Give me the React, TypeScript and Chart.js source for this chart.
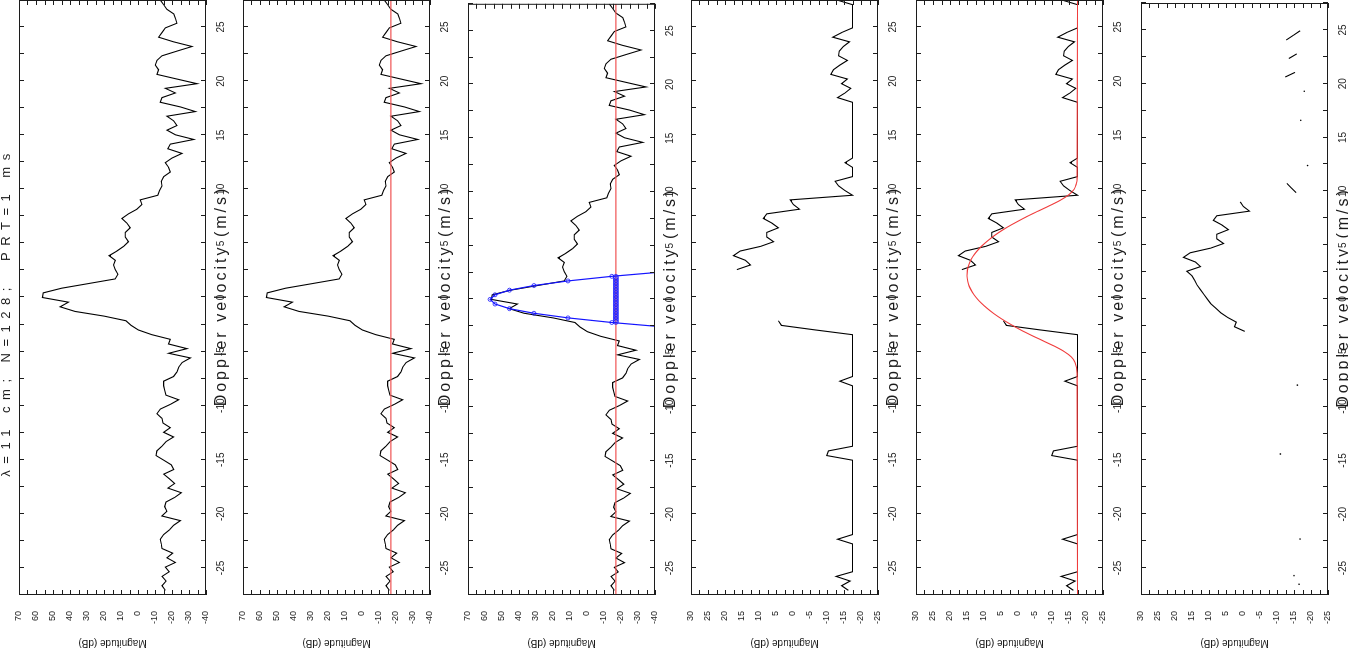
import React, { useEffect, useRef } from "react";
import { Chart, registerables } from "chart.js";

Chart.register(...registerables);

// ---------- data ----------
const N_BINS = 128;
const NYQUIST = 27.5; // m/s  (lambda / (4 PRT))
const VELOCITY: number[] = Array.from({ length: N_BINS }, (_, k) => ((k - 63) * 2 * NYQUIST) / N_BINS);

// raw Doppler spectrum (dB), one value per velocity bin
const SPECTRUM: number[] = [
  -16.1, -14.1, -16.5, -14.1, -18.4, -16.1, -22.0, -17.0, -20.4, -14.1,
  -13.7, -13.1, -15.1, -18.4, -21.0, -24.9, -14.1, -17.0, -15.7, -16.5,
  -21.6, -25.5, -17.6, -21.6, -18.4, -15.1, -21.0, -19.6, -15.1, -10.6,
  -11.1, -14.1, -16.5, -20.9, -15.1, -19.0, -14.7, -14.1, -11.1, -13.1,
  -19.0, -23.9, -16.4, -15.7, -15.1, -15.1, -20.9, -22.9, -23.9, -25.9,
  -30.8, -18.0, -28.8, -18.0, -19.0, -8.2, -0.3, 4.0, 7.1, 20.0,
  37.0, 45.8, 40.9, 56.2, 55.7, 44.9, 29.1, 13.4, 11.8, 13.4,
  14.4, 13.4, 17.0, 12.4, 8.5, 5.6, 7.5, 7.5, 4.6, 6.5,
  9.5, 5.6, 0.6, -2.3, -1.3, -11.7, -12.7, -14.1, -13.7, -15.1,
  -19.0, -18.0, -16.0, -20.0, -25.9, -17.5, -19.0, -32.8, -22.0, -17.0,
  -22.9, -21.0, -17.0, -33.7, -24.9, -13.1, -14.1, -22.0, -16.1, -34.7,
  -22.9, -11.1, -12.1, -10.2, -11.1, -14.1, -22.9, -31.8, -21.0, -12.1,
  -14.1, -16.1, -22.9, -22.0, -21.0, -17.0, -15.1, -13.1,
];

const NOISE_LEVEL = -17;

// clutter-filtered, noise-floored spectrum (panels 4 and 5)
const PROCESSED: (number | null)[] = [
  -16.3, -14.3, -16.8, -12.7, -17.5, -17.5, -17.5, -17.5, -17.5, -17.5,
  -17.5, -13.1, -17.5, -17.5, -17.5, -17.5, -17.5, -17.5, -17.5, -17.5,
  -17.5, -17.5, -17.5, -17.5, -17.5, -17.5, -17.5, -17.5, -17.5, -9.9,
  -10.4, -17.5, -17.5, -17.5, -17.5, -17.5, -17.5, -17.5, -17.5, -17.5,
  -17.5, -17.5, -17.5, -17.5, -17.5, -13.8, -17.5, -17.5, -17.5, -17.5,
  -17.5, -17.5, -17.5, -17.5, -17.5, -17.5, -6.8, 3.4, 4.3, null,
  null, null, null, null, null, null, null, null, null, 16.5,
  12.5, 14.0, 17.5, 15.5, 9.5, 5.7, 7.7, 7.7, 4.3, 6.2,
  8.7, 7.7, -1.9, -0.1, 0.8, -17.5, -15.3, -13.4, -12.4, -17.5,
  -17.5, -17.5, -15.3, -17.5, -17.5, -17.5, -17.5, -17.5, -17.5, -17.5,
  -17.5, -17.5, -17.5, -17.5, -17.5, -17.5, -13.1, -15.3, -17.0, -14.3,
  -16.0, -11.1, -11.9, -13.8, -16.0, -13.4, -13.6, -14.8, -16.6, -11.7,
  -14.3, -17.5, -17.5, -17.5, -17.5, -17.5, -17.5, -12.9,
];

// signal-only spectrum (panel 6), gaps where no signal
const SIGNAL: (number | null)[] = [
  null, null, null, null, null, null, null, null, null, null,
  null, null, null, null, null, null, null, null, null, null,
  null, null, null, null, null, null, null, null, null, null,
  null, null, null, null, null, null, null, null, null, null,
  null, null, null, null, null, null, null, null, null, null,
  null, null, null, null, null, null, -0.5, 2.5, 2.0, 4.5,
  6.5, 8.0, 9.5, 10.5, 11.5, 12.5, 13.5, 14.2, 15.0, 16.5,
  12.5, 14.0, 17.5, 15.5, 9.5, 5.7, 7.7, 7.7, 4.3, 6.2,
  8.7, 7.7, -1.9, -0.1, 0.8, null, -15.6, -14.2, -12.9, null,
  null, null, null, null, null, null, null, null, null, null,
  null, null, null, null, null, null, null, null, null, null,
  null, -12.4, -15.3, null, null, -13.5, -15.8, null, null, -12.7,
  -14.8, -16.8, null, null, null, null, null, null,
];
const DOT_VEL = [-26.5, -25.7, -22.3, -14.4, -8.0, 12.4, 16.6, 19.3];
const DOT_DB = [-16.5, -15.0, -16.8, -11.0, -16.0, -19.0, -17.0, -18.0];

// Gaussian model (panel 5)
const FIT_VEL = [
  -27.5, -7, -6, -5.5, -5, -4.5, -4, -3.5, -3, -2.5, -2, -1.5, -1, -0.5, 0, 0.5, 1, 1.5, 2,
  2.5, 3, 3.5, 4, 4.5, 5, 5.5, 6, 6.5, 7, 7.5, 8, 8.5, 9, 9.5, 10, 10.5, 11, 27.5,
];
const FIT_DB = [
  -17.5, -17.4, -16.8, -15.7, -13.6, -10.7, -7.35, -4.0, -0.8, 2.06, 4.7, 7.06, 9.1, 10.86,
  12.3, 13.43, 14.3, 14.78, 15.0, 14.9, 14.5, 13.8, 12.8, 11.47, 9.85, 7.92, 5.7, 3.14, 0.3,
  -2.71, -6.0, -9.37, -12.5, -14.96, -16.5, -17.14, -17.4, -17.5,
];

// parabolic peak fit (panel 3)
const PARAB_VEL = [-2.578, -2.148, -1.719, -1.289, -0.859, -0.43, 0, 0.43, 0.859, 1.289, 1.719, 2.148, 2.578];
const PARAB_DB = [-46.2, -14.6, 11.2, 31.2, 45.6, 54.1, 57.0, 54.1, 45.6, 31.2, 11.2, -14.6, -46.2];
const HATCH_VEL = [
  -2.1, -1.95, -1.8, -1.65, -1.5, -1.35, -1.2, -1.05, -0.9, -0.75, -0.6, -0.45, -0.3, -0.15, 0,
  0.15, 0.3, 0.45, 0.6, 0.75, 0.9, 1.05, 1.2, 1.35, 1.5, 1.65, 1.8, 1.95, 2.1,
];

const TITLE = "λ=11 cm; N=128;  PRT=1 ms";
const X_TITLE = "Doppler velocity (m/s)";
const Y_TITLE = "Magnitude (dB)";

// ---------- styling / layout ----------
const FONT = '"Liberation Sans", Arial, Helvetica, sans-serif';
const INK = "#1c1c1c";
const CW = 667;
const CH = 245;

type Kind = "raw" | "noise" | "fit" | "processed" | "gauss" | "signal";
const PANELS: { kind: Kind; offset: number }[] = [
  { kind: "raw", offset: 0 },
  { kind: "noise", offset: 224 },
  { kind: "fit", offset: 449 },
  { kind: "processed", offset: 672 },
  { kind: "gauss", offset: 897 },
  { kind: "signal", offset: 1122 },
];

const pts = (xs: number[], ys: (number | null)[]) => xs.map((x, i) => ({ x, y: ys[i] }));
const line = (data: any[], color: string, order: number, extra: any = {}) => ({
  data,
  borderColor: color,
  backgroundColor: color,
  borderWidth: 1.1,
  pointRadius: 0,
  tension: 0,
  spanGaps: false,
  order,
  ...extra,
});

function datasets(kind: Kind) {
  const ds: any[] = [];
  const raw = pts(VELOCITY, SPECTRUM);
  const noise = [
    { x: -NYQUIST, y: NOISE_LEVEL },
    { x: NYQUIST, y: NOISE_LEVEL },
  ];
  if (kind === "raw") ds.push(line(raw, "#000", 3));
  if (kind === "noise") {
    ds.push(line(raw, "#000", 3));
    ds.push(line(noise, "#f05a5a", 2));
  }
  if (kind === "fit") {
    ds.push(line(raw, "#000", 4));
    ds.push(line(noise, "#f05a5a", 3));
    ds.push(
      line(pts(PARAB_VEL, PARAB_DB), "#1414ff", 1, {
        borderWidth: 1.2,
        pointRadius: 2,
        pointStyle: "circle",
        pointBorderWidth: 0.8,
        pointBackgroundColor: "rgba(0,0,0,0)",
        pointBorderColor: "#1414ff",
      })
    );
    ds.push(
      line(
        HATCH_VEL.map((x) => ({ x, y: NOISE_LEVEL })),
        "#1414ff",
        1,
        {
          showLine: false,
          pointRadius: 2.4,
          pointStyle: "circle",
          pointBorderWidth: 0.8,
          pointBackgroundColor: "rgba(0,0,0,0)",
          pointBorderColor: "#1414ff",
        }
      )
    );
  }
  if (kind === "processed") ds.push(line(pts(VELOCITY, PROCESSED), "#000", 3));
  if (kind === "gauss") {
    ds.push(line(pts(VELOCITY, PROCESSED), "#000", 3));
    ds.push(line(pts(FIT_VEL, FIT_DB), "#f03c3c", 2, { cubicInterpolationMode: "monotone" }));
  }
  if (kind === "signal") {
    ds.push(line(pts(VELOCITY, SIGNAL), "#000", 3));
    ds.push(
      line(pts(DOT_VEL, DOT_DB), "#000", 2, {
        showLine: false,
        pointRadius: 0.8,
        pointBorderWidth: 0,
      })
    );
  }
  return ds;
}

const boxPlugin = {
  id: "matlabBox",
  afterDraw(chart: any) {
    const { ctx, chartArea: a, scales } = chart;
    const xs = scales.x;
    const ys = scales.y;
    const L = 5;
    ctx.save();
    ctx.strokeStyle = INK;
    ctx.lineWidth = 1;
    ctx.beginPath();
    xs.ticks.forEach((t: any) => {
      const p = Math.round(xs.getPixelForValue(t.value)) + 0.5;
      ctx.moveTo(p, a.bottom);
      ctx.lineTo(p, a.bottom - L);
      ctx.moveTo(p, a.top);
      ctx.lineTo(p, a.top + L);
    });
    ys.ticks.forEach((t: any) => {
      const p = Math.round(ys.getPixelForValue(t.value)) + 0.5;
      ctx.moveTo(a.left, p);
      ctx.lineTo(a.left + L, p);
      ctx.moveTo(a.right, p);
      ctx.lineTo(a.right - L, p);
    });
    ctx.stroke();
    ctx.strokeRect(a.left + 0.5, a.top + 0.5, a.right - a.left - 1, a.bottom - a.top - 1);

    // velocity axis title (wide letter spacing as in the reference)
    ctx.fillStyle = INK;
    ctx.font = `16px ${FONT}`;
    (ctx as any).letterSpacing = "3px";
    ctx.textAlign = "center";
    ctx.textBaseline = "middle";
    ctx.fillText(X_TITLE, (a.left + a.right) / 2 + 1.5, 222);
    ctx.restore();
  },
};

const titlePlugin = {
  id: "figTitle",
  afterDraw(chart: any) {
    const ctx = chart.ctx;
    ctx.save();
    ctx.fillStyle = INK;
    ctx.font = `13px ${FONT}`;
    (ctx as any).letterSpacing = "6.5px";
    ctx.textAlign = "center";
    ctx.textBaseline = "middle";
    ctx.fillText(TITLE, 354, 6);
    ctx.restore();
  },
};

function Panel({ kind, offset }: { kind: Kind; offset: number }) {
  const ref = useRef<HTMLCanvasElement | null>(null);
  useEffect(() => {
    const small = kind === "processed" || kind === "gauss" || kind === "signal";
    const yMin = small ? -25 : -40;
    const yMax = small ? 30 : 70;
    const yStep = small ? 2.5 : 5;
    const yLabelEvery = small ? 5 : 10;
    const chart = new Chart(ref.current as HTMLCanvasElement, {
      type: "line",
      data: { datasets: datasets(kind) },
      options: {
        responsive: false,
        animation: false,
        events: [],
        layout: { padding: { top: 19, right: 1, left: 0, bottom: 0 } },
        plugins: { legend: { display: false }, tooltip: { enabled: false }, title: { display: false } },
        scales: {
          x: {
            type: "linear",
            min: -NYQUIST,
            max: NYQUIST,
            grid: { display: false },
            border: { display: false },
            afterFit: (s: any) => {
              s.height = 39;
            },
            ticks: {
              stepSize: 2.5,
              autoSkip: false,
              maxRotation: 0,
              minRotation: 0,
              padding: 1,
              color: INK,
              font: { family: FONT, size: 10 },
              callback: (v: any) => {
                const n = Number(v);
                return Math.abs(n % 5) < 1e-6 && Math.abs(n) <= 25 ? String(n) : "";
              },
            },
            title: { display: false },
          },
          y: {
            type: "linear",
            min: yMin,
            max: yMax,
            grid: { display: false },
            border: { display: false },
            afterFit: (s: any) => {
              s.width = 71;
            },
            ticks: {
              stepSize: yStep,
              autoSkip: false,
              padding: 8,
              color: INK,
              font: { family: FONT, size: 9 },
              callback: (v: any) => {
                const n = Number(v);
                return Math.abs(n % yLabelEvery) < 1e-6 ? String(n) : "";
              },
            },
            title: {
              display: true,
              text: Y_TITLE,
              color: INK,
              font: { family: FONT, size: 10, lineHeight: 1.2 },
              padding: { top: 17.5, bottom: 0 },
            },
          },
        },
      },
      plugins: kind === "raw" ? [boxPlugin, titlePlugin] : [boxPlugin],
    } as any);
    return () => chart.destroy();
  }, [kind]);
  return (
    <canvas
      ref={ref}
      width={CW}
      height={CH}
      style={{ position: "absolute", left: 0, top: offset, width: CW, height: CH }}
    />
  );
}

export default function App() {
  return (
    <div
      style={{
        position: "fixed",
        left: 0,
        top: 0,
        width: CW,
        height: 1348,
        transformOrigin: "0 0",
        transform: "translateY(666px) rotate(-90deg)",
        background: "#fff",
      }}
    >
      {PANELS.map((p) => (
        <Panel key={p.kind} kind={p.kind} offset={p.offset} />
      ))}
    </div>
  );
}
